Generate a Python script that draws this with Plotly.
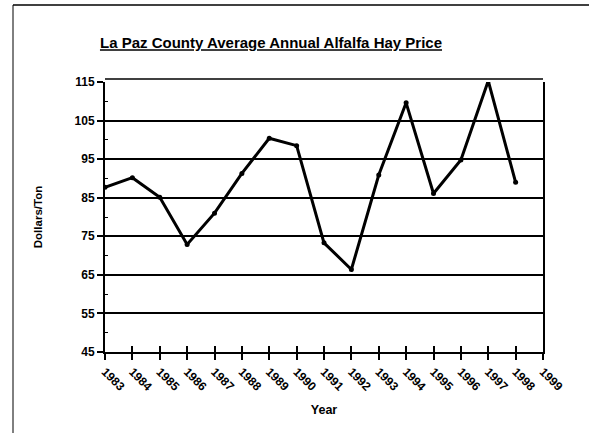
import plotly.graph_objects as go

# Average annual alfalfa hay price, La Paz County ($/ton)
years = [1983, 1984, 1985, 1986, 1987, 1988, 1989, 1990,
         1991, 1992, 1993, 1994, 1995, 1996, 1997, 1998]
prices = [87.7, 90.2, 85.1, 72.9, 81.0, 91.3, 100.4, 98.5,
          73.3, 66.4, 90.9, 109.6, 86.1, 94.8, 115.3, 89.0]

year_ticks = list(range(1983, 2000))
price_ticks = [45, 55, 65, 75, 85, 95, 105, 115]

FONT = "Arial, Liberation Sans, sans-serif"
PW, PH = 438, 270  # plot area size in px

fig = go.Figure()

fig.add_trace(
    go.Scatter(
        x=years, y=prices, mode="lines+markers",
        line=dict(color="black", width=3),
        marker=dict(color="black", size=5),
        showlegend=False, xaxis="x", yaxis="y",
    )
)
# invisible trace on the overlay axis so the inside ticks get drawn
fig.add_trace(
    go.Scatter(x=[year_ticks[0], year_ticks[-1]], y=[45, 45], mode="lines",
               line=dict(width=0), showlegend=False, hoverinfo="skip",
               xaxis="x2", yaxis="y")
)

fig.update_layout(
    width=589, height=433,
    paper_bgcolor="white", plot_bgcolor="white",
    margin=dict(l=105, r=46, t=82, b=81, autoexpand=False),
    font=dict(family=FONT, color="black"),
    title=dict(
        text="<b><u>La Paz County Average Annual Alfalfa Hay Price</u></b>",
        x=271 / 589, xanchor="center", y=1 - 43 / 433, yanchor="middle",
        font=dict(size=15, family=FONT, color="black"),
    ),
    xaxis=dict(
        range=[1983, 1999], tickvals=year_ticks,
        ticktext=[f"<b>{y}</b>" for y in year_ticks],
        tickangle=45, tickfont=dict(size=12, family=FONT),
        ticks="outside", ticklen=6, tickwidth=1.5, tickcolor="black",
        showline=True, linecolor="black", linewidth=2, mirror=False,
        showgrid=False, zeroline=False, automargin=False,
        title=dict(text="<b>Year</b>", font=dict(size=12.5), standoff=12),
    ),
    xaxis2=dict(
        overlaying="x", range=[1983, 1999], tickvals=year_ticks,
        showticklabels=False, ticks="inside", ticklen=6, tickwidth=1.5,
        tickcolor="black", showgrid=False, zeroline=False, side="bottom",
        automargin=False,
    ),
    yaxis=dict(
        range=[45, 115], tickvals=price_ticks,
        ticktext=[f"<b>{v}</b>" for v in price_ticks],
        tickfont=dict(size=12, family=FONT),
        ticks="outside", ticklen=6, tickwidth=1.5, tickcolor="black",
        showline=True, linecolor="black", linewidth=2, mirror=True,
        showgrid=True, gridcolor="black", gridwidth=1.5, zeroline=False,
        automargin=False,
        minor=dict(tickvals=[50, 60, 70, 80, 90, 100, 110], ticks="inside",
                   ticklen=3, tickcolor="black", tickwidth=1, showgrid=False),
        title=dict(text="<b>Dollars/Ton</b>", font=dict(size=11.5), standoff=30),
    ),
    shapes=[
        # outer frame of the scanned page (left and top edges)
        dict(type="line", xref="paper", yref="paper",
             x0=-92 / PW, x1=-92 / PW, y0=-81 / PH, y1=1 + 77 / PH,
             line=dict(color="black", width=1)),
        dict(type="line", xref="paper", yref="paper",
             x0=-92 / PW, x1=1 + 46 / PW, y0=1 + 77 / PH, y1=1 + 77 / PH,
             line=dict(color="black", width=1.5)),
        # double line at the top of the plot
        dict(type="line", xref="paper", yref="paper",
             x0=0, x1=1, y0=1 + 3 / PH, y1=1 + 3 / PH,
             line=dict(color="black", width=1.5)),
    ],
)

fig.write_html(
    "out.html",
    config={"displayModeBar": False},
    post_script="document.body.style.margin='0';document.body.style.overflow='hidden';",
)
